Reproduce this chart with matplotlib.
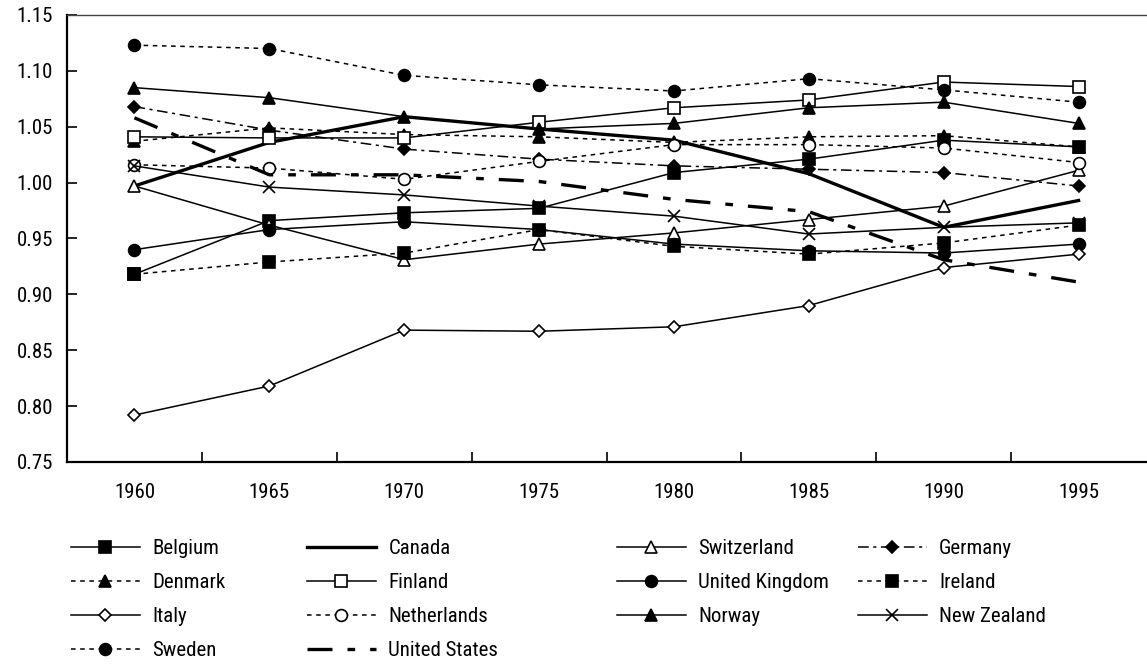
import matplotlib.pyplot as plt
import numpy as np

plt.rcParams['font.family'] = ['Roboto Condensed', 'Archivo Narrow', 'DejaVu Sans']

years = ['1960', '1965', '1970', '1975', '1980', '1985', '1990', '1995']

# values
belgium = [0.918, 0.966, 0.973, 0.977, 1.009, 1.021, 1.038, 1.032]
canada = [0.997, 1.036, 1.059, 1.048, 1.038, 1.008, 0.960, 0.984]
switzerland = [0.997, 0.962, 0.931, 0.945, 0.955, 0.967, 0.979, 1.011]
germany = [1.068, 1.047, 1.030, 1.021, 1.015, 1.012, 1.009, 0.997]
denmark = [1.037, 1.049, 1.043, 1.041, 1.036, 1.041, 1.042, 1.032]
finland = [1.041, 1.040, 1.040, 1.054, 1.067, 1.074, 1.090, 1.086]
uk = [0.940, 0.958, 0.965, 0.958, 0.945, 0.939, 0.937, 0.945]
ireland = [0.918, 0.929, 0.937, 0.958, 0.943, 0.936, 0.946, 0.962]
italy = [0.792, 0.818, 0.868, 0.867, 0.871, 0.890, 0.924, 0.936]
netherlands = [1.016, 1.013, 1.003, 1.019, 1.034, 1.034, 1.031, 1.018]
norway = [1.085, 1.076, 1.059, 1.048, 1.053, 1.067, 1.072, 1.053]
new_zealand = [1.015, 0.996, 0.989, 0.979, 0.970, 0.954, 0.960, 0.964]
sweden = [1.123, 1.120, 1.096, 1.0875, 1.082, 1.093, 1.083, 1.072]
united_states = [1.058, 1.007, 1.007, 1.001, 0.985, 0.974, 0.931, 0.911]

dot = (0, (3, 3))
dashdot = (0, (7, 3, 2, 3))
usdash = (0, (7.5, 4.5, 2.3, 4.5))

# (label, values, linestyle, linewidth, marker, facecolor)
series = [
    ('Belgium', belgium, '-', 1.1, 's', 'black'),
    ('Canada', canada, '-', 2.4, None, 'black'),
    ('Switzerland', switzerland, '-', 1.1, '^', 'white'),
    ('Germany', germany, dashdot, 1.1, 'D', 'black'),
    ('Denmark', denmark, dot, 1.1, '^', 'black'),
    ('Finland', finland, '-', 1.1, 's', 'white'),
    ('United Kingdom', uk, '-', 1.1, 'o', 'black'),
    ('Ireland', ireland, dot, 1.1, 's', 'black'),
    ('Italy', italy, '-', 1.1, 'D', 'white'),
    ('Netherlands', netherlands, dot, 1.1, 'o', 'white'),
    ('Norway', norway, '-', 1.1, '^', 'black'),
    ('New Zealand', new_zealand, '-', 1.1, 'x', 'black'),
    ('Sweden', sweden, dot, 1.1, 'o', 'black'),
    ('United States', united_states, usdash, 2.4, None, 'black'),
]

fig = plt.figure(figsize=(11.47, 6.64), dpi=100)
ax = fig.add_axes([67 / 1147, 202 / 664, 1079 / 1147, 447 / 664])

x = np.arange(len(years))
handles = {}
for label, vals, ls, lw, mk, fc in series:
    ms = 8.5
    if mk == 'D':
        ms = 6.5
    if mk == 'x':
        ms = 9
    line, = ax.plot(x, vals, color='black', linestyle=ls, linewidth=lw,
                    marker=mk, markersize=ms, markerfacecolor=fc,
                    markeredgecolor='black', markeredgewidth=1.2, label=label)
    handles[label] = line

ax.set_xlim(-0.5, 7.5)
ax.set_ylim(0.75, 1.15)
ax.set_yticks(np.arange(0.75, 1.151, 0.05))
ax.set_yticklabels(['%.2f' % v for v in np.arange(0.75, 1.151, 0.05)])
ax.set_xticks(x)
ax.set_xticklabels(years)
ax.set_xticks(np.arange(0.5, 7, 1), minor=True)
ax.tick_params(axis='x', which='major', length=0, pad=15, labelsize=15)
ax.tick_params(axis='x', which='minor', direction='in', length=7, width=1.2)
ax.tick_params(axis='y', direction='in', length=7, width=1.2, pad=10, labelsize=15)

ax.spines['right'].set_visible(False)
ax.spines['left'].set_linewidth(1.6)
ax.spines['bottom'].set_linewidth(1.6)
ax.spines['top'].set_linewidth(1.0)
ax.spines['top'].set_color('#444444')

# legend laid out row by row, four columns
columns = [
    ['Belgium', 'Denmark', 'Italy', 'Sweden'],
    ['Canada', 'Finland', 'Netherlands', 'United States'],
    ['Switzerland', 'United Kingdom', 'Norway'],
    ['Germany', 'Ireland', 'New Zealand'],
]
col_x = [71, 307, 617, 858]
for names, cx in zip(columns, col_x):
    fig.legend(handles=[handles[n] for n in names], loc='upper left',
               bbox_to_anchor=(cx / 1147, (664 - 539) / 664),
               frameon=False, borderpad=0, borderaxespad=0,
               handlelength=3.3, handletextpad=0.6, labelspacing=0.72,
               fontsize=15)

fig.savefig('out.png', dpi=100)
